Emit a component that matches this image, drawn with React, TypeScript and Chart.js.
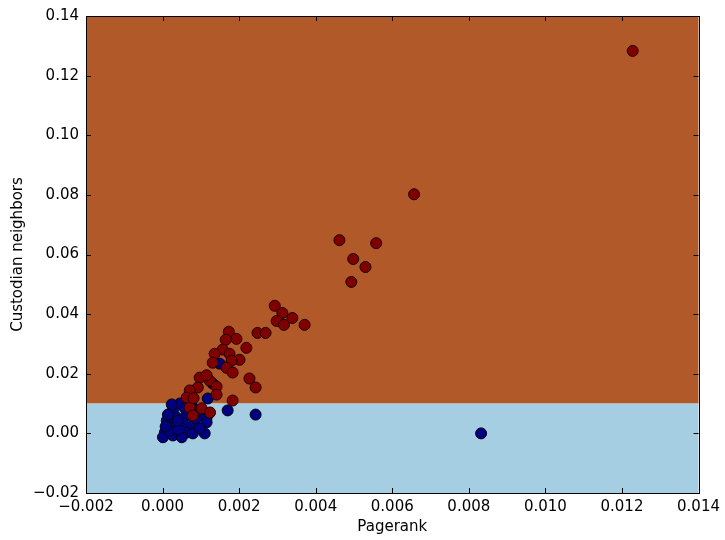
import React, { useEffect, useRef } from "react";
import { Chart, registerables } from "chart.js";

Chart.register(...registerables);

// Class shown in dark red (upper region)
const redX = [
  0.01228, 0.00657, 0.00462, 0.00558, 0.00498, 0.0053, 0.00493, 0.00293, 0.00313, 0.00339,
  0.00298, 0.00317, 0.00371, 0.00248, 0.00269, 0.00173, 0.00193, 0.00219, 0.00165, 0.00157,
  0.00136, 0.00175, 0.00201, 0.0018, 0.00131, 0.00167, 0.00183, 0.00227, 0.00243, 0.00097,
  0.00123, 0.00141, 0.00092, 0.00071, 0.00063, 0.00183, 0.00141, 0.00102, 0.00124, 0.00071,
  0.00079, 0.00115, 0.00081,
];
const redY = [
  0.1283, 0.0802, 0.0648, 0.0638, 0.0585, 0.0558, 0.0508, 0.0428, 0.0404, 0.0387,
  0.0377, 0.0364, 0.0364, 0.0337, 0.0337, 0.0341, 0.0317, 0.0287, 0.0314, 0.0281,
  0.0267, 0.0267, 0.0247, 0.0244, 0.0237, 0.022, 0.0204, 0.0184, 0.0154, 0.0187,
  0.0177, 0.0157, 0.0154, 0.0144, 0.012, 0.011, 0.013, 0.0084, 0.007, 0.0087,
  0.006, 0.0195, 0.0118,
];

// Class shown in dark blue (lower region)
const blueX = [
  0.00832, 0.00149, 0.00131, 0.00118, 0.00066, 0.00045, 0.0017, 0.00243, 0.00115, 0.00115,
  0.00027, 0.00037, 0.00063, 0.00011, 0.00019, 0.00053, 0.00079, 0.00006, 0.00032, 0.00063,
  0.00079, 0.0011, 0.00001, 0.00027, 0.0005, 0.00016, 0.00042, 0.00097, 0.00087, 0.0004,
  0.00024, 0.00058, 0.00097, 0.00008, 0.00014, 0.00076,
];
const blueY = [
  0.0, 0.0234, 0.0167, 0.0117, 0.0117, 0.01, 0.0077, 0.0063, 0.0053, 0.0037,
  0.0077, 0.0053, 0.006, 0.0043, 0.002, 0.0033, 0.0027, 0.0003, 0.0003, 0.0003,
  0.0, 0.0, -0.0013, -0.0007, -0.0013, 0.0009, 0.0013, 0.0017, 0.005, 0.0043,
  0.0097, 0.0084, 0.0077, 0.0023, 0.0063, 0.0097,
];

const xTicks = [-0.002, 0.0, 0.002, 0.004, 0.006, 0.008, 0.01, 0.012, 0.014];
const yTicks = [-0.02, 0.0, 0.02, 0.04, 0.06, 0.08, 0.1, 0.12, 0.14];
const boundary = 0.01;

const fmt = (v: number, d: number) => (v < -1e-12 ? "\u2212" : "") + Math.abs(v).toFixed(d);

const FONT = "'DejaVu Sans', sans-serif";

const regionPlugin = {
  id: "regions",
  beforeDatasetsDraw(chart: any) {
    const { ctx, chartArea: a, scales } = chart;
    const yb = scales.y.getPixelForValue(boundary);
    ctx.save();
    ctx.fillStyle = "#b15928";
    ctx.fillRect(a.left, a.top, a.right - a.left, yb - a.top);
    ctx.fillStyle = "#a6cee3";
    ctx.fillRect(a.left, yb, a.right - a.left, a.bottom - yb);
    ctx.restore();
  },
  afterDraw(chart: any) {
    const { ctx, chartArea: a, scales } = chart;
    ctx.save();
    ctx.strokeStyle = "#000";
    ctx.lineWidth = 1;
    const L = 5;
    ctx.beginPath();
    xTicks.forEach((v) => {
      const x = Math.round(scales.x.getPixelForValue(v)) + 0.5;
      ctx.moveTo(x, a.bottom);
      ctx.lineTo(x, a.bottom - L);
      ctx.moveTo(x, a.top);
      ctx.lineTo(x, a.top + L);
    });
    yTicks.forEach((v) => {
      const y = Math.round(scales.y.getPixelForValue(v)) + 0.5;
      ctx.moveTo(a.left, y);
      ctx.lineTo(a.left + L, y);
      ctx.moveTo(a.right, y);
      ctx.lineTo(a.right - L, y);
    });
    ctx.stroke();
    ctx.strokeRect(Math.round(a.left) + 0.5, Math.round(a.top) + 0.5, Math.round(a.right - a.left), Math.round(a.bottom - a.top));
    ctx.restore();
  },
};

export default function App() {
  const ref = useRef<HTMLCanvasElement>(null);

  useEffect(() => {
    if (!ref.current) return;
    const chart = new Chart(ref.current, {
      type: "scatter",
      data: {
        datasets: [
          {
            label: "red",
            data: redX.map((x, i) => ({ x, y: redY[i] })),
            backgroundColor: "#800000",
            borderColor: "#1a0000",
            borderWidth: 1,
            pointRadius: 5.5,
          },
          {
            label: "blue",
            data: blueX.map((x, i) => ({ x, y: blueY[i] })),
            backgroundColor: "#000080",
            borderColor: "#000010",
            borderWidth: 1,
            pointRadius: 5.5,
          },
        ],
      },
      options: {
        responsive: false,
        animation: false,
        events: [],
        layout: { padding: { left: 0, top: 14, right: 25, bottom: 0 } },
        plugins: { legend: { display: false }, tooltip: { enabled: false } },
        scales: {
          x: {
            type: "linear",
            min: -0.002,
            max: 0.014,
            grid: { display: false, drawTicks: false },
            border: { display: false },
            afterBuildTicks: (s: any) => {
              s.ticks = xTicks.map((v) => ({ value: v }));
            },
            afterFit: (s: any) => {
              s.height = 47;
            },
            ticks: {
              autoSkip: false,
              maxRotation: 0,
              padding: 5,
              color: "#000",
              font: { family: FONT, size: 15 },
              callback: (v: any) => fmt(Number(v), 3),
            },
            title: {
              display: true,
              text: "Pagerank",
              color: "#000",
              font: { family: FONT, size: 15 },
              padding: { top: 0, bottom: 4 },
            },
          },
          y: {
            type: "linear",
            min: -0.02,
            max: 0.14,
            grid: { display: false, drawTicks: false },
            border: { display: false },
            afterBuildTicks: (s: any) => {
              s.ticks = yTicks.map((v) => ({ value: v }));
            },
            afterFit: (s: any) => {
              s.width = 86;
            },
            ticks: {
              autoSkip: false,
              padding: 7,
              color: "#000",
              font: { family: FONT, size: 15 },
              callback: (v: any) => fmt(Number(v), 2),
            },
            title: {
              display: true,
              text: "Custodian neighbors",
              color: "#000",
              font: { family: FONT, size: 15 },
              padding: { top: 9, bottom: 0 },
            },
          },
        },
      },
      plugins: [regionPlugin],
    });
    return () => chart.destroy();
  }, []);

  return (
    <div style={{ position: "absolute", left: 0, top: 0, width: 725, height: 540, background: "#fff" }}>
      <canvas ref={ref} width={725} height={540} />
    </div>
  );
}
